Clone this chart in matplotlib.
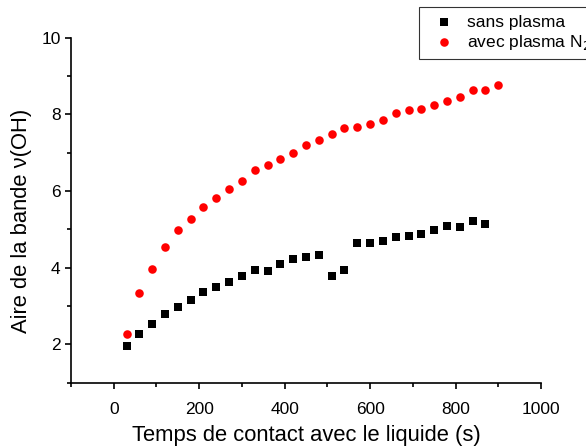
import matplotlib.pyplot as plt
from matplotlib.ticker import MultipleLocator

plt.rcParams['font.family'] = ['Liberation Sans', 'DejaVu Sans']

# contact time (s)
t_sans = [30, 60, 90, 120, 150, 180, 210, 240, 270, 300, 330, 360, 390, 420, 450,
          480, 510, 540, 570, 600, 630, 660, 690, 720, 750, 780, 810, 840, 870]
t_avec = [30, 60, 90, 120, 150, 180, 210, 240, 270, 300, 330, 360, 390, 420, 450,
          480, 510, 540, 570, 600, 630, 660, 690, 720, 750, 780, 810, 840, 870, 900]

# OH band area
aire_sans = [1.96, 2.26, 2.53, 2.79, 2.98, 3.15, 3.37, 3.50, 3.63, 3.78, 3.94, 3.92,
             4.10, 4.22, 4.29, 4.33, 3.78, 3.94, 4.64, 4.65, 4.70, 4.79, 4.83, 4.89,
             4.98, 5.09, 5.06, 5.23, 5.13]
aire_avec = [2.26, 3.35, 3.97, 4.55, 4.98, 5.28, 5.58, 5.82, 6.05, 6.27, 6.55, 6.68,
             6.84, 7.00, 7.20, 7.32, 7.50, 7.65, 7.68, 7.76, 7.86, 8.03, 8.11, 8.14,
             8.24, 8.34, 8.46, 8.63, 8.63, 8.76]

fig = plt.figure(figsize=(5.86, 4.48), dpi=100)
ax = fig.add_axes([0.1212, 0.146, 0.802, 0.7698])

ax.scatter(t_sans, aire_sans, marker='s', s=30, color='black', linewidths=0,
           label='sans plasma', zorder=3)
ax.scatter(t_avec, aire_avec, marker='o', s=38, color='#ff0000', linewidths=0,
           label='avec plasma N$_2$', zorder=3)

ax.set_xlim(-100, 1000)
ax.set_ylim(1, 10)
ax.xaxis.set_major_locator(MultipleLocator(200))
ax.xaxis.set_minor_locator(MultipleLocator(100))
ax.yaxis.set_major_locator(MultipleLocator(2))
ax.yaxis.set_minor_locator(MultipleLocator(1))

for side in ('top', 'right'):
    ax.spines[side].set_visible(False)
for side in ('left', 'bottom'):
    ax.spines[side].set_linewidth(1.2)

ax.tick_params(which='major', direction='out', length=4, width=1.2, labelsize=12.5,
               colors='black')
ax.tick_params(which='minor', direction='out', length=3, width=1.2)
ax.tick_params(axis='x', which='major', pad=10)

ax.set_xlabel('Temps de contact avec le liquide (s)', fontsize=15.8, labelpad=6)
ax.set_ylabel('Aire de la bande ν(OH)', fontsize=15.8, labelpad=7)
ax.yaxis.label.set_y(0.47)

# legend box runs past the right edge of the figure
leg = fig.legend(loc='upper left', bbox_to_anchor=(419 / 586, 1 - 7 / 448),
                 fontsize=12.5, frameon=True, fancybox=False, edgecolor='black',
                 handletextpad=0.3, borderpad=0.45, labelspacing=0.15,
                 handlelength=2.0, borderaxespad=0)
leg.get_frame().set_linewidth(0.8)

fig.savefig('out.png', dpi=100)
